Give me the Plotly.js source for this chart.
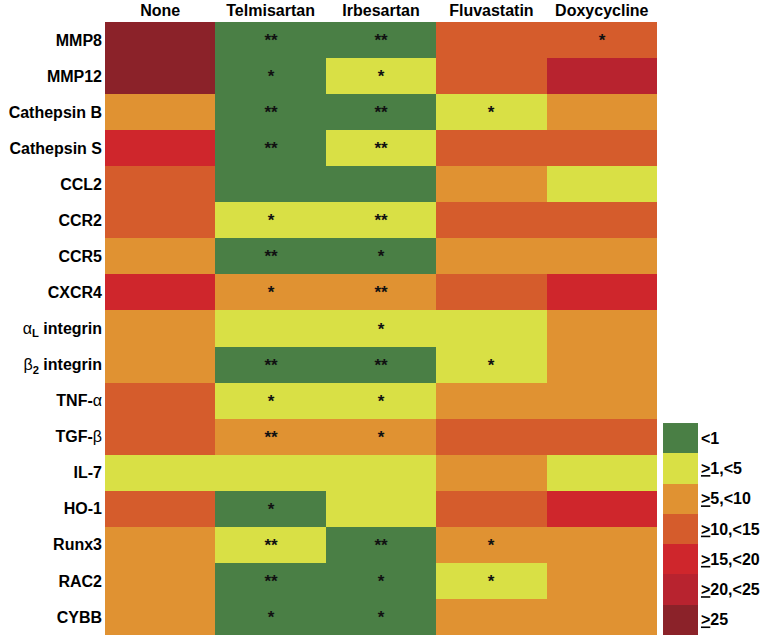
<!DOCTYPE html>
<html>
<head>
<meta charset="utf-8">
<script src="https://cdn.plot.ly/plotly-3.0.1.min.js"></script>
<style>html,body{margin:0;padding:0;background:#fff;}#chart{width:766px;height:639px;}</style>
</head>
<body>
<div id="chart"></div>
<script>
// Treatments (columns)
const treatments = ['None', 'Telmisartan', 'Irbesartan', 'Fluvastatin', 'Doxycycline'];
// Genes (rows, top to bottom)
const genes = ['MMP8', 'MMP12', 'Cathepsin B', 'Cathepsin S', 'CCL2', 'CCR2', 'CCR5', 'CXCR4',
  '<span style="font-weight:normal">α</span><sub>L</sub> integrin',
  '<span style="font-weight:normal">β</span><sub>2</sub> integrin',
  'TNF-<span style="font-weight:normal">α</span>', 'TGF-<span style="font-weight:normal">β</span>',
  'IL-7', 'HO-1', 'Runx3', 'RAC2', 'CYBB'];
// Fold-change bins (legend categories)
const binLabels = ['&lt;1', '<u>></u>1,&lt;5', '<u>></u>5,&lt;10', '<u>></u>10,&lt;15',
  '<u>></u>15,&lt;20', '<u>></u>20,&lt;25', '<u>></u>25'];
const binColors = ['#4a7f45', '#d9e045', '#e09232', '#d55c2c', '#cf262c', '#b8232f', '#8b2229'];
// Bin index per cell (row = gene, col = treatment)
const bins = [
  [6, 0, 0, 3, 3],
  [6, 0, 1, 3, 5],
  [2, 0, 0, 1, 2],
  [4, 0, 1, 3, 3],
  [3, 0, 0, 2, 1],
  [3, 1, 1, 3, 3],
  [2, 0, 0, 2, 2],
  [4, 2, 2, 3, 4],
  [2, 1, 1, 1, 2],
  [2, 0, 0, 1, 2],
  [3, 1, 1, 2, 2],
  [3, 2, 2, 3, 3],
  [1, 1, 1, 2, 1],
  [3, 0, 1, 3, 4],
  [2, 1, 0, 2, 2],
  [2, 0, 0, 1, 2],
  [2, 0, 0, 2, 2]
];
// Significance marks
const stars = [
  ['', '**', '**', '', '*'],
  ['', '*', '*', '', ''],
  ['', '**', '**', '*', ''],
  ['', '**', '**', '', ''],
  ['', '', '', '', ''],
  ['', '*', '**', '', ''],
  ['', '**', '*', '', ''],
  ['', '*', '**', '', ''],
  ['', '', '*', '', ''],
  ['', '**', '**', '*', ''],
  ['', '*', '*', '', ''],
  ['', '**', '*', '', ''],
  ['', '', '', '', ''],
  ['', '*', '', '', ''],
  ['', '**', '**', '*', ''],
  ['', '**', '*', '*', ''],
  ['', '*', '*', '', '']
];

const n = binColors.length;
const colorscale = [];
binColors.forEach((c, i) => { colorscale.push([i / n, c]); colorscale.push([(i + 1) / n, c]); });

const font = {family: 'Liberation Sans, Arial, sans-serif', size: 16, color: '#000', weight: 'bold'};

const main = {
  type: 'heatmap', x: treatments, y: genes, z: bins, text: stars,
  texttemplate: '%{text}', textfont: {family: 'Liberation Sans, Arial, sans-serif', size: 17, color: '#111', weight: 'bold'},
  colorscale: colorscale, zmin: -0.5, zmax: n - 0.5, showscale: false, hoverinfo: 'skip',
  xaxis: 'x', yaxis: 'y'
};
const legendIdx = binLabels.map((_, i) => [i]);
const legendTrace = {
  type: 'heatmap', x: ['key'], y: binLabels, z: legendIdx,
  colorscale: colorscale, zmin: -0.5, zmax: n - 0.5, showscale: false, hoverinfo: 'skip',
  xaxis: 'x2', yaxis: 'y2'
};

const layout = {
  width: 766, height: 639,
  margin: {l: 105, r: 0, t: 22, b: 4},
  paper_bgcolor: '#fff', plot_bgcolor: '#fff',
  font: font,
  showlegend: false,
  xaxis: {domain: [0, 0.8351], side: 'top', ticks: '', showgrid: false, zeroline: false, showline: false,
    tickfont: font, ticklabelstandoff: 2, fixedrange: true},
  yaxis: {domain: [0, 1], autorange: 'reversed', ticks: '', showgrid: false, zeroline: false, showline: false,
    tickfont: font, ticklabelstandoff: 2, fixedrange: true},
  xaxis2: {domain: [0.8442, 0.8971], anchor: 'y2', showticklabels: false, ticks: '', showgrid: false,
    zeroline: false, showline: false, fixedrange: true},
  yaxis2: {domain: [0, 0.3458], anchor: 'x2', side: 'right', autorange: 'reversed', ticks: '', showgrid: false,
    zeroline: false, showline: false, tickfont: font, ticklabelstandoff: 2, fixedrange: true}
};

Plotly.newPlot('chart', [main, legendTrace], layout, {displayModeBar: false, staticPlot: true});
</script>
</body>
</html>
